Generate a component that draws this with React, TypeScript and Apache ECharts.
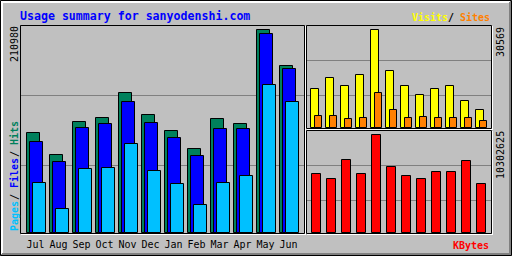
import React, { useEffect, useRef } from "react";
import * as echarts from "echarts";

const months = ["Jul", "Aug", "Sep", "Oct", "Nov", "Dec", "Jan", "Feb", "Mar", "Apr", "May", "Jun"];
const hits = [103620, 80750, 115050, 119520, 145500, 122640, 105700, 86990, 118480, 112970, 210980, 173250];
const files = [94890, 73480, 109130, 113280, 136150, 114010, 98730, 79710, 107780, 107780, 206510, 170130];
const pages = [51650, 24630, 66200, 67240, 92190, 64130, 50610, 28790, 51650, 58930, 153510, 135840];
const visits = [12070, 15500, 13010, 16440, 30569, 17690, 13010, 10200, 12070, 13010, 8330, 5520];
const sites = [3650, 3650, 2710, 3030, 10820, 5520, 3030, 3340, 3030, 3030, 3030, 2090];
const kbytes = [6171000, 5645000, 7643000, 6171000, 10302625, 6907000, 5961000, 5645000, 6381000, 6381000, 7538000, 5120000];

const titleText = "Usage summary for sanyodenshi.com";

const FONT = "'DejaVu Sans Mono', monospace";
const COL = {
  hits: "#00805C",
  files: "#0000FF",
  pages: "#00C0FF",
  visits: "#FFFF00",
  sites: "#FF8000",
  kbytes: "#FF0000",
  bg: "#C0C0C0",
  dk: "#808080",
  title: "#0000FF",
};

function barSeries(data: number[], axis: number, dx: number, w: number, color: string) {
  return {
    type: "custom",
    xAxisIndex: axis,
    yAxisIndex: axis,
    z: 5,
    data: data.map((v, i) => [i, v]),
    encode: { x: 0, y: 1 },
    renderItem: (params: any, api: any) => {
      const i = api.value(0);
      const v = api.value(1);
      const top = api.coord([i, v]);
      const base = api.coord([i, 0]);
      const x = Math.round(base[0] + dx - 0.5) + 0.5;
      const yTop = Math.round(top[1] - 0.5) + 0.5;
      const yBot = base[1];
      return {
        type: "rect",
        shape: { x, y: yTop, width: w, height: yBot - yTop },
        style: { fill: color, stroke: "#000", lineWidth: 1 },
      };
    },
  };
}

function hline(x1: number, x2: number, y: number, color: string) {
  return { type: "line", z: 1, silent: true, shape: { x1, y1: y, x2, y2: y }, style: { stroke: color, lineWidth: 1 } };
}
function vline(x: number, y1: number, y2: number, color: string) {
  return { type: "line", z: 1, silent: true, shape: { x1: x, y1, x2: x, y2 }, style: { stroke: color, lineWidth: 1 } };
}
function panel(x1: number, y1: number, x2: number, y2: number) {
  return [
    { type: "rect", z: 1, silent: true, shape: { x: x1 + 0.5, y: y1 + 0.5, width: x2 - x1, height: y2 - y1 }, style: { fill: "none", stroke: "#000", lineWidth: 1 } },
    vline(x2 + 1.5, y1 + 1, y2 + 2, "#FFFFFF"),
    hline(x1 + 1, x2 + 2, y2 + 1.5, "#FFFFFF"),
  ];
}
function txt(text: string, x: number, y: number, color: string, opts: any = {}) {
  return {
    type: "text",
    z: 10,
    silent: true,
    x,
    y,
    rotation: opts.rotation || 0,
    style: {
      text,
      fill: color,
      font: `${opts.bold ? "bold " : ""}${opts.size || 10}px ${FONT}`,
      align: "left",
      verticalAlign: "middle",
    },
  };
}

export default function App() {
  const ref = useRef<HTMLDivElement>(null);
  useEffect(() => {
    if (!ref.current) return;
    const chart = echarts.init(ref.current, undefined, { renderer: "svg" });
    const maxHits = Math.max(...hits, ...files, ...pages);
    const maxVisits = Math.max(...visits, ...sites);
    const maxKb = Math.max(...kbytes);
    const R = Math.PI / 2;
    const b = { bold: true };
    const bR = { bold: true, rotation: R };
    const graphic: any[] = [
      // outer frame
      { type: "rect", z: 0, silent: true, shape: { x: 0.5, y: 0.5, width: 511, height: 255 }, style: { fill: "none", stroke: "#000", lineWidth: 1 } },
      hline(1, 510, 1.5, "#FFFFFF"),
      hline(1, 509, 2.5, "#FFFFFF"),
      vline(1.5, 1, 254, "#FFFFFF"),
      vline(2.5, 1, 253, "#FFFFFF"),
      vline(510.5, 1, 255, COL.dk),
      vline(509.5, 2, 255, COL.dk),
      hline(1, 511, 254.5, COL.dk),
      hline(2, 511, 253.5, COL.dk),
      // panels
      ...panel(20, 25, 304, 233),
      ...panel(306, 25, 491, 128),
      ...panel(306, 130, 491, 233),
      // grid lines
      hline(21, 304, 95.5, COL.dk),
      hline(21, 304, 165.5, COL.dk),
      hline(307, 491, 60.5, COL.dk),
      hline(307, 491, 95.5, COL.dk),
      hline(307, 491, 165.5, COL.dk),
      hline(307, 491, 200.5, COL.dk),
      // texts
      txt(titleText, 20, 15.5, COL.title, { bold: true, size: 11.6 }),
      txt("Visits", 412, 17.5, COL.visits, b),
      txt("/", 448, 17.5, "#000000", b),
      txt("Sites", 460, 17.5, COL.sites, b),
      txt("KBytes", 453, 245, COL.kbytes, b),
      txt(String(maxHits), 14.5, 62, "#000000", { rotation: R }),
      txt(String(maxVisits), 500.5, 57, "#000000", { rotation: R }),
      txt(String(maxKb), 500.5, 179, "#000000", { rotation: R }),
      txt("Pages", 14.5, 231, COL.pages, bR),
      txt("/", 14.5, 200, "#000000", bR),
      txt("Files", 14.5, 188, COL.files, bR),
      txt("/", 14.5, 157, "#000000", bR),
      txt("Hits", 14.5, 145, COL.hits, bR),
    ];
    const catAxis = (grid: number, showLabels: boolean) => ({
      type: "category",
      gridIndex: grid,
      data: months,
      boundaryGap: true,
      axisLine: { show: false },
      axisTick: { show: false },
      splitLine: { show: false },
      axisLabel: showLabels
        ? { show: true, margin: 7, color: "#000", fontFamily: FONT, fontSize: 10, interval: 0 }
        : { show: false },
    });
    const valAxis = (grid: number, max: number) => ({
      type: "value",
      gridIndex: grid,
      min: 0,
      max,
      show: false,
      splitLine: { show: false },
    });
    chart.setOption({
      animation: false,
      backgroundColor: COL.bg,
      grid: [
        { left: 24, top: 29.5, width: 276, height: 203 },
        { left: 306, top: 29.5, width: 180, height: 98 },
        { left: 306, top: 134.5, width: 180, height: 98 },
      ],
      xAxis: [catAxis(0, true), catAxis(1, false), catAxis(2, false)],
      yAxis: [valAxis(0, maxHits), valAxis(1, maxVisits), valAxis(2, maxKb)],
      series: [
        barSeries(hits, 0, -9, 13, COL.hits),
        barSeries(files, 0, -6, 13, COL.files),
        barSeries(pages, 0, -3, 13, COL.pages),
        barSeries(visits, 1, -3, 8, COL.visits),
        barSeries(sites, 1, 1, 7, COL.sites),
        barSeries(kbytes, 2, -2, 9, COL.kbytes),
      ],
      graphic,
    });
    return () => chart.dispose();
  }, []);
  return <div ref={ref} style={{ position: "fixed", left: 0, top: 0, width: 512, height: 256 }} />;
}
